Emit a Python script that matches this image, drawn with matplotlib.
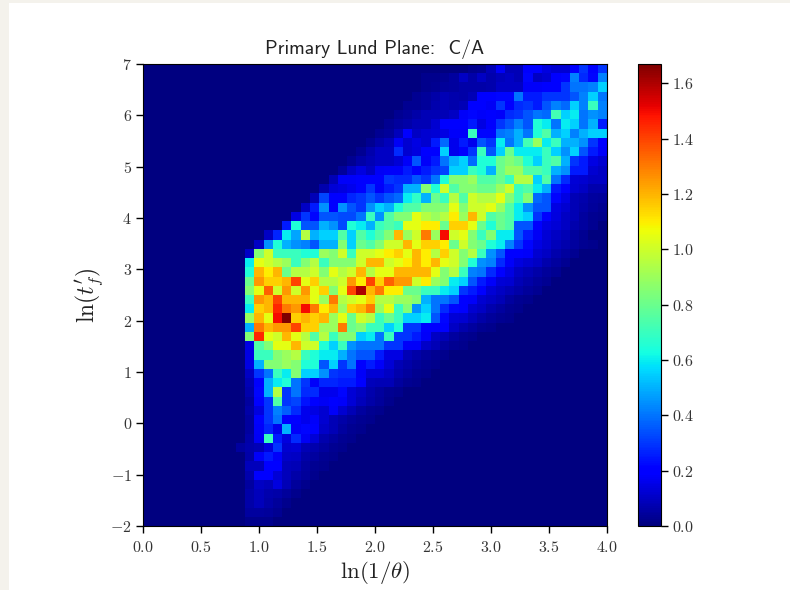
import numpy as np
import matplotlib
matplotlib.use("Agg")
import matplotlib.pyplot as plt
from matplotlib.patches import Rectangle

plt.rcParams["mathtext.fontset"] = "cm"

title = "Primary Lund Plane:  C/A"
x_ticks = [0.0, 0.5, 1.0, 1.5, 2.0, 2.5, 3.0, 3.5, 4.0]
y_ticks = [-2, -1, 0, 1, 2, 3, 4, 5, 6, 7]
cbar_ticks = [0.0, 0.2, 0.4, 0.6, 0.8, 1.0, 1.2, 1.4, 1.6]
x_edges = np.linspace(0, 4, 51)
y_edges = np.linspace(-2, 7, 51)

# first filled column of each row, top row first
row_start = [35, 30, 30, 29, 28, 27, 26, 25, 24, 23,
             22, 21, 20, 19, 18, 17, 16, 15, 13, 12,
             11, 11, 11, 11, 11, 11, 11, 11, 11, 11,
             11, 11, 11, 11, 11, 11, 11, 11, 11, 11,
             11, 10, 11, 11, 11, 11, 11, 11, 11, 11]

# values, top row first
row_values = [
    [.02, .03, .08, .17, .08, .08, .2, .2, .14, .12, .12, .2, .3, .2, .3],
    [.02, .02, .03, .05, .1, .06, .1, .07, .09, .1, .08, .22, .1, .12, .2, .22, .42, .28, .22, .42],
    [.02, .03, .04, .05, .06, .06, .06, .07, .1, .1, .1, .18, .18, .2, .2, .3, .4, .4, .42, .55],
    [.03, .04, .06, .08, .07, .06, .08, .2, .2, .22, .22, .4, .25, .25, .3, .3, .3, .35, .42, .55, .4],
    [.03, .03, .04, .07, .08, .07, .08, .2, .2, .17, .3, .2, .28, .3, .25, .35, .42, .38, .55, .42, .7, .42],
    [.03, .04, .06, .08, .08, .08, .1, .18, .22, .18, .2, .18, .28, .3, .35, .4, .38, .72, .55, .6, .4, .45, .42],
    [.03, .05, .06, .08, .08, .12, .2, .2, .2, .25, .15, .2, .3, .35, .42, .35, .65, .6, .4, .6, .55, .4, .5, .25],
    [.03, .04, .09, .2, .1, .12, .13, .15, .18, .18, .7, .22, .22, .4, .42, .5, .4, .65, .75, .5, .55, .42, .5, .55, .55],
    [.03, .06, .09, .17, .12, .15, .12, .25, .38, .16, .25, .16, .35, .3, .6, .4, .5, .72, .9, .6, .7, .5, .5, .45, .3, .2],
    [.03, .07, .1, .1, .28, .12, .14, .2, .2, .55, .16, .2, .3, .7, .35, .55, .8, .6, .6, .6, .7, .55, .45, .55, .35, .25, .18],
    [.03, .06, .08, .1, .1, .13, .18, .35, .18, .25, .4, .5, .55, .38, .65, .65, .8, .85, .8, .65, .55, .7, .75, .5, .3, .25, .15, .12],
    [.04, .1, .14, .1, .17, .18, .18, .25, .2, .25, .3, .32, .55, .55, .7, .65, .5, .8, .9, .9, .75, .75, .7, .5, .45, .25, .25, .12, .1],
    [.08, .18, .18, .2, .2, .2, .3, .28, .28, .35, .3, .4, .65, .85, .85, .9, .75, .75, .8, .7, .95, .95, .55, .75, .4, .28, .13, .12, .1, .1],
    [.07, .13, .14, .16, .2, .3, .18, .25, .3, .5, .5, .85, .65, 1.0, .75, .85, .85, .8, .8, .9, 1.0, .7, .75, .6, .5, .25, .2, .12, .1, .07, .07],
    [.08, .32, .2, .2, .27, .3, .35, .3, .35, .38, .6, .68, .5, .8, .7, .95, .75, 1.0, .95, .95, 1.05, .85, .7, .85, .38, .35, .22, .15, .08, .07, .05, .04],
    [.1, .25, .45, .2, .45, .35, .3, .45, .55, .5, .65, .75, .75, .85, .85, .85, 1.05, .85, 1.0, 1.0, 1.05, .9, .75, .6, .45, .35, .35, .15, .12, .08, .06, .04, .03],
    [.15, .3, .22, .35, .35, .33, .33, .4, .7, .45, .75, .85, .85, 1.05, .95, .9, .95, 1.1, .9, 1.2, 1.0, .75, .8, .75, .6, .55, .3, .2, .14, .1, .08, .05, .03, .02],
    [.25, .65, .35, .35, .5, .45, .33, .65, .6, .5, .7, .75, .7, 1.05, 1.05, 1.1, 1.1, .8, 1.15, 1.15, 1.05, .8, .65, .8, .75, .35, .35, .2, .15, .13, .1, .07, .05, .03],
    [.1, .27, .6, .48, .95, .5, .55, .55, .75, .55, .75, .65, .75, .85, 1.2, .9, 1.0, 1.3, .9, 1.5, 1.0, 1.05, .85, .7, .85, .6, .6, .35, .25, .17, .13, .1, .08, .05, .03],
    [.1, .45, .65, .5, .45, .42, .35, .5, .5, .85, .55, .8, .75, .85, 1.0, 1.0, 1.2, 1.05, 1.15, 1.15, 1.1, .8, 1.0, .85, .8, .65, .6, .42, .3, .22, .15, .12, .09, .07, .05, .03, .02],
    [.1, .85, 1.0, .7, .7, .7, .65, .65, .9, .85, 1.0, .7, 1.0, 1.0, 1.05, 1.1, 1.15, 1.05, 1.2, 1.1, .95, 1.15, 1.0, .85, .95, .7, .45, .35, .2, .2, .18, .12, .1, .07, .05, .03],
    [.6, 1.05, 1.0, .95, .9, .7, .85, .95, .7, .85, .85, .85, 1.0, 1.2, 1.2, 1.0, 1.05, 1.1, 1.2, 1.1, 1.2, 1.05, 1.0, .85, .65, .45, .42, .28, .18, .14, .12, .1, .07, .05, .03],
    [.65, 1.2, 1.1, 1.2, .8, .95, .95, 1.0, .85, 1.05, .95, 1.0, 1.2, .95, 1.05, 1.05, 1.2, 1.2, 1.2, 1.2, 1.05, .85, .95, .7, .42, .4, .28, .2, .15, .1, .08, .06, .04, .03],
    [.8, 1.25, 1.15, 1.15, 1.2, 1.4, 1.05, 1.15, .95, .95, 1.0, 1.25, 1.1, 1.4, 1.15, 1.35, 1.25, 1.25, 1.0, 1.1, .9, .85, .6, .55, .35, .25, .18, .13, .12, .08, .06, .04, .03],
    [.85, 1.05, 1.35, 1.0, 1.25, 1.0, 1.25, 1.05, 1.15, .85, 1.05, 1.4, 1.6, 1.2, 1.3, 1.1, 1.1, .8, .8, .7, .7, .6, .55, .3, .25, .2, .13, .1, .08, .06, .04, .03],
    [.7, 1.25, 1.2, 1.4, 1.2, 1.2, 1.2, 1.05, .9, 1.3, .95, 1.0, 1.05, 1.15, .95, .95, .9, .9, .85, .5, .4, .4, .35, .2, .18, .12, .1, .08, .05, .03, .02],
    [.6, 1.15, 1.2, 1.45, 1.3, 1.25, 1.5, 1.3, 1.1, 1.2, .9, 1.15, 1.2, 1.3, .9, 1.05, .7, .85, .45, .55, .4, .28, .22, .2, .12, .1, .07, .05, .03, .02],
    [.9, 1.2, 1.05, 1.5, 1.67, 1.15, 1.2, 1.15, 1.2, .9, 1.05, .8, 1.0, .95, .7, .8, .7, .55, .55, .6, .35, .22, .13, .12, .09, .06, .04, .03, .02],
    [.5, 1.3, 1.2, 1.25, 1.25, 1.4, 1.15, 1.15, .9, .9, 1.3, .8, .85, .7, .7, .55, .65, .3, .3, .2, .2, .2, .1, .07, .05, .03, .02],
    [.85, 1.45, 1.05, 1.0, 1.2, 1.05, .95, .75, .95, .7, .85, .85, .55, .6, .4, .7, .3, .3, .25, .18, .1, .08, .05, .03, .02],
    [.15, .75, .85, 1.05, 1.05, 1.2, 1.0, 1.0, .65, .55, .7, .45, .4, .4, .4, .3, .3, .18, .18, .11, .08, .05, .03, .02],
    [.15, .7, .7, .85, .9, .95, .7, .65, .6, .6, .5, .4, .35, .35, .25, .15, .15, .08, .06, .04, .03, .02],
    [.15, .5, .85, .85, .9, .85, .65, .65, .35, .55, .3, .4, .2, .25, .18, .13, .08, .06, .04, .03, .02],
    [.1, .3, .4, .7, .6, .85, .55, .55, .45, .3, .28, .28, .18, .13, .13, .1, .07, .05, .03, .02],
    [.08, .2, .5, .6, .65, .4, .3, .18, .27, .27, .25, .25, .2, .09, .08, .08, .05, .03, .02],
    [.07, .22, .5, .95, .3, .4, .28, .28, .16, .16, .22, .13, .1, .07, .05, .03, .02],
    [.05, .2, .3, .75, .3, .32, .24, .2, .17, .2, .18, .13, .09, .06, .04, .02],
    [.06, .14, .3, .42, .36, .28, .16, .15, .12, .18, .12, .08, .05, .03, .02],
    [.05, .2, .3, .4, .2, .2, .16, .18, .12, .08, .06, .04, .03, .02],
    [.05, .18, .27, .16, .5, .18, .22, .2, .11, .08, .05, .03, .02],
    [.06, .17, .7, .25, .14, .28, .17, .13, .07, .05, .03, .02],
    [.05, .07, .08, .14, .3, .12, .13, .08, .07, .05, .03, .02],
    [.06, .18, .25, .18, .11, .1, .06, .05, .03, .02],
    [.09, .09, .19, .2, .09, .08, .05, .03, .02],
    [.07, .2, .2, .13, .09, .06, .04, .02],
    [.05, .1, .09, .14, .08, .04, .02],
    [.06, .09, .07, .06, .04, .02],
    [.06, .09, .06, .04, .02],
    [.05, .05, .04, .03],
    [.02, .02, .02],
]

grid = np.zeros((50, 50))
for r, (start, vals) in enumerate(zip(row_start, row_values)):
    grid[r, start:start + len(vals)] = vals

W, H = 790, 590
fig = plt.figure(figsize=(W / 100, H / 100), dpi=100, facecolor="#f4f2ec")
fig.add_artist(Rectangle((9 / W, 0), 1 - 9 / W, 1 - 3 / H, transform=fig.transFigure,
                         facecolor="white", edgecolor="none", zorder=-1))

ax = fig.add_axes([143 / W, 1 - 526 / H, 464 / W, 462 / H])
mesh = ax.pcolormesh(x_edges, y_edges, grid[::-1], cmap="jet", vmin=0, vmax=grid.max())
ax.set_xlim(0, 4)
ax.set_ylim(-2, 7)
ax.set_xticks(x_ticks)
ax.set_xticklabels([f"${v:.1f}$" for v in x_ticks], fontsize=11.5, color="#333333")
ax.set_yticks(y_ticks)
ax.set_yticklabels([f"${v}$" for v in y_ticks], fontsize=11.5, color="#333333")
ax.tick_params(length=5, width=1.0, pad=3)
ax.tick_params(axis="x", pad=5)
ax.set_xlabel(r"$\ln(1/\theta)$", fontsize=16.5, color="#222222", labelpad=3)
ax.set_ylabel(r"$\ln(t_f^\prime)$", fontsize=17, color="#222222", labelpad=4)
ax.set_title(title, fontsize=14.2, family="cmss10", color="#222222", pad=7)

cax = fig.add_axes([638 / W, 1 - 526 / H, 23 / W, 462 / H])
cbar = fig.colorbar(mesh, cax=cax)
cbar.set_ticks(cbar_ticks)
cbar.set_ticklabels([f"${v:.1f}$" for v in cbar_ticks], fontsize=11.5, color="#333333")
cbar.ax.tick_params(length=5, width=1.0, pad=3)

fig.savefig("out.png", dpi=100, facecolor=fig.get_facecolor())
plt.close(fig)
